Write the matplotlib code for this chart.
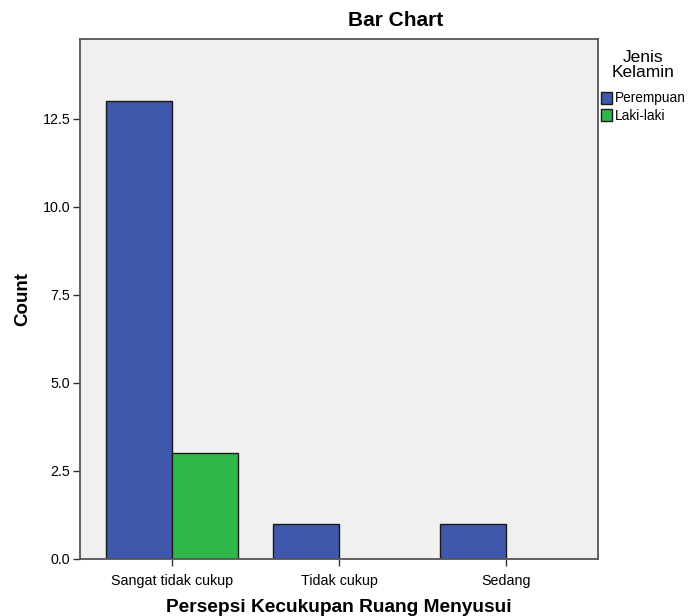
import matplotlib
matplotlib.use("Agg")
import matplotlib.pyplot as plt
import numpy as np

# data
categories = ["Sangat tidak cukup", "Tidak cukup", "Sedang"]
perempuan = [13, 1, 1]
laki_laki = [3, 0, 0]
series_names = ["Perempuan", "Laki-laki"]
colors = ["#3e58ac", "#2fb84a"]

plt.rcParams['font.family'] = ['Liberation Sans', 'DejaVu Sans']

fig = plt.figure(figsize=(6.88, 6.16), dpi=100)
ax = fig.add_axes([80/688, 1 - 559/616, (598 - 80)/688, (559 - 39)/616])
ax.set_facecolor("#f0f0f0")

x = np.arange(len(categories))
w = 0.395
ax.bar(x - w/2, perempuan, w, color=colors[0], edgecolor="#1a1a1a", linewidth=1, label=series_names[0])
lk = np.array(laki_laki, dtype=float)
mask = lk > 0
ax.bar((x + w/2)[mask], lk[mask], w, color=colors[1], edgecolor="#1a1a1a", linewidth=1, label=series_names[1])

ax.set_xlim(-0.551, 2.551)
ax.set_ylim(0, 14.77)
ax.set_yticks([0, 2.5, 5, 7.5, 10, 12.5])
ax.set_yticklabels(["0.0", "2.5", "5.0", "7.5", "10.0", "12.5"])
ax.set_xticks(x)
ax.set_xticklabels(categories)
ax.tick_params(axis="both", labelsize=10.3, length=5, width=1, color="#333333", direction="out")
ax.tick_params(axis="x", pad=6)
ax.tick_params(axis="y", pad=2)
for s in ax.spines.values():
    s.set_color("#555555")
    s.set_linewidth(1.3)

ax.set_xlabel("Persepsi Kecukupan Ruang Menyusui", fontsize=13.8, fontweight="bold", labelpad=8)
ax.set_ylabel("Count", fontsize=13.5, fontweight="bold", labelpad=8)
fig.text(396/688, 1 - 21/616, "Bar Chart", ha="center", va="center", fontsize=15, fontweight="bold")

leg = fig.legend(loc="upper left", bbox_to_anchor=(598/688, 1 - 47/616), frameon=False,
                 title="Jenis\nKelamin", fontsize=9.8, title_fontsize=12.5,
                 handlelength=0.85, handleheight=1.0, handletextpad=0.2, labelspacing=0.25,
                 borderaxespad=0, borderpad=0.2)
leg.get_title().set_multialignment("center")
leg.get_title().set_linespacing(1.05)
leg._legend_box.sep = 8

fig.savefig("out.png", dpi=100)
